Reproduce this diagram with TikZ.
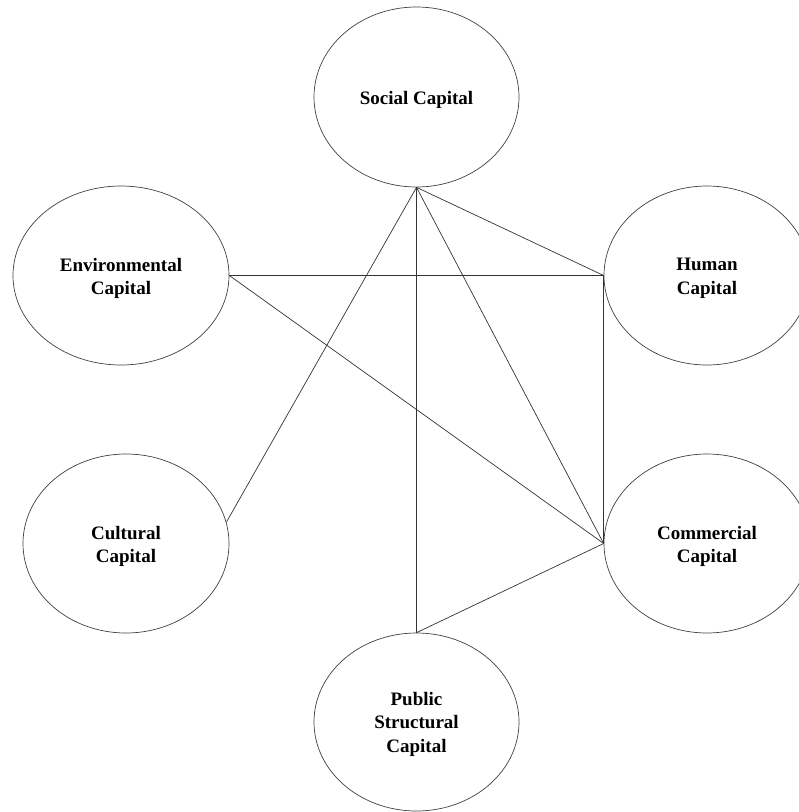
\documentclass[tikz,border=0pt]{standalone}
\usepackage{fontspec}
\setmainfont{Liberation Serif}
\usetikzlibrary{shapes.geometric}
\begin{document}
\begin{tikzpicture}[x=1pt,y=-1pt,
  capital/.style={ellipse, draw=black!75, line width=0.7pt, inner sep=0pt},
  caption/.style={align=center, inner sep=0pt, yshift=-3pt,
    font=\fontsize{19}{23.5}\selectfont\bfseries},
  link/.style={draw=black!80, line width=0.7pt}]
  \useasboundingbox (0,0) rectangle (799,812);

  \node[capital, minimum width=205pt, minimum height=180pt,
    label={[caption]center:Social Capital}] (social) at (416.5,97) {};
  \node[capital, minimum width=216pt, minimum height=179pt,
    label={[caption]center:Environmental\\Capital}] (env) at (121,275.5) {};
  \node[capital, minimum width=206pt, minimum height=179pt,
    label={[caption]center:Human\\Capital}] (human) at (707,275.5) {};
  \node[capital, minimum width=206pt, minimum height=179pt,
    label={[caption]center:Cultural\\Capital}] (cult) at (126,543.5) {};
  \node[capital, minimum width=206pt, minimum height=179pt,
    label={[caption]center:Commercial\\Capital}] (comm) at (707,543.5) {};
  \node[capital, minimum width=205pt, minimum height=178pt,
    label={[caption, yshift=1pt]center:Public\\Structural\\Capital}] (public) at (416.5,722) {};

  \draw[link] (social.south) -- (human.west);
  \draw[link] (social.south) -- (cult.12);
  \draw[link] (social.south) -- (public.north);
  \draw[link] (social.south) -- (comm.west);
  \draw[link] (env.east) -- (human.west);
  \draw[link] (env.east) -- (comm.west);
  \draw[link] (human.west) -- (comm.west);
  \draw[link] (public.north) -- (comm.west);
\end{tikzpicture}
\end{document}
